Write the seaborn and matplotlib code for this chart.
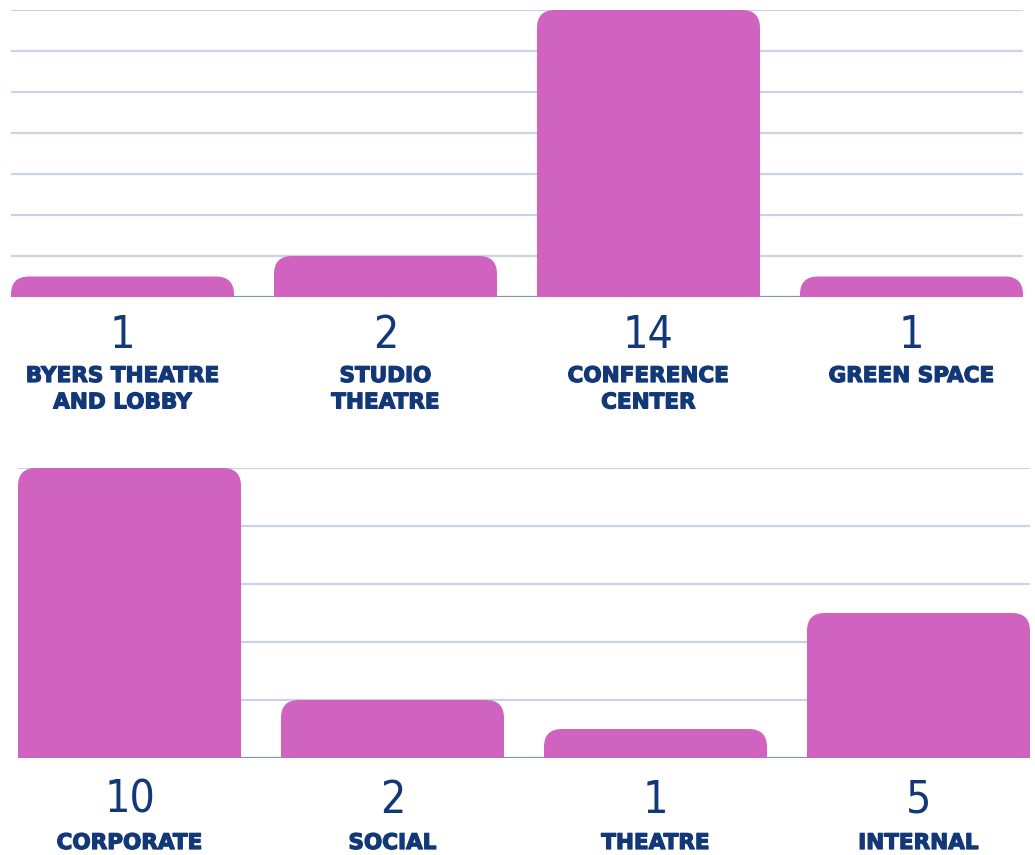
import matplotlib
matplotlib.use("Agg")
import matplotlib.pyplot as plt
import matplotlib.patheffects as pe
import seaborn as sns
import pandas as pd
from matplotlib.patches import FancyBboxPatch

# datos
venues = ["BYERS THEATRE\nAND LOBBY", "STUDIO\nTHEATRE", "CONFERENCE\nCENTER", "GREEN SPACE"]
venue_counts = [1, 2, 14, 1]
event_types = ["CORPORATE", "SOCIAL", "THEATRE", "INTERNAL"]
event_counts = [10, 2, 1, 5]

BAR = "#d063c0"
NAVY = "#123878"
GRID = "#c8d3e3"
BASE = "#7d97ba"
W, H = 1035, 855

sns.set_theme(style="white")
plt.rcParams["font.family"] = ["DejaVu Sans"]

fig = plt.figure(figsize=(W / 100, H / 100), dpi=100)


def panel(left, right, top, base, cats, vals, ymax, num_off, lab_off):
    ax = fig.add_axes([left / W, 1 - base / H, (right - left) / W, (base - top) / H])
    df = pd.DataFrame({"cat": cats, "val": vals})
    sns.barplot(df, x="cat", y="val", color=BAR, width=0.848, ax=ax)
    ax.set_xlim(-0.424, len(cats) - 1 + 0.424)
    ax.set_ylim(0, ymax)
    for y in range(2, ymax + 1, 2):
        ax.axhline(y, color=GRID, lw=1.6, zorder=0)
    ax.axhline(0, color=BASE, lw=1.6, zorder=0)

    # barras con esquinas superiores redondeadas
    px_x = (right - left) / (len(cats) - 1 + 0.848)
    px_y = (base - top) / ymax
    aspect = px_x / px_y
    r = 18 / px_x
    for p in list(ax.patches):
        x0, w, h = p.get_x(), p.get_width(), p.get_height()
        p.remove()
        ext = r * aspect
        fb = FancyBboxPatch((x0, -ext), w, h + ext,
                            boxstyle="round,pad=0,rounding_size={}".format(r),
                            mutation_aspect=aspect, fc=BAR, ec="none", zorder=2)
        ax.add_patch(fb)

    for i, (c, v) in enumerate(zip(cats, vals)):
        ax.annotate(str(v), (i, 0), xytext=(0, num_off), textcoords="offset pixels",
                    ha="center", va="center", fontsize=32, color=NAVY,
                    fontstretch="condensed", annotation_clip=False)
        ax.annotate(c, (i, 0), xytext=(0, lab_off), textcoords="offset pixels",
                    ha="center", va="top", fontsize=15.5, fontweight="bold",
                    color=NAVY, linespacing=1.4, annotation_clip=False,
                    path_effects=[pe.withStroke(linewidth=0.9, foreground=NAVY)])
    ax.set_axis_off()
    return ax


panel(11, 1023, 10, 297, venues, venue_counts, 14, -39, -69)
panel(18, 1030, 468, 758, event_types, event_counts, 10, -42, -75)

fig.savefig("out.png", dpi=100)
